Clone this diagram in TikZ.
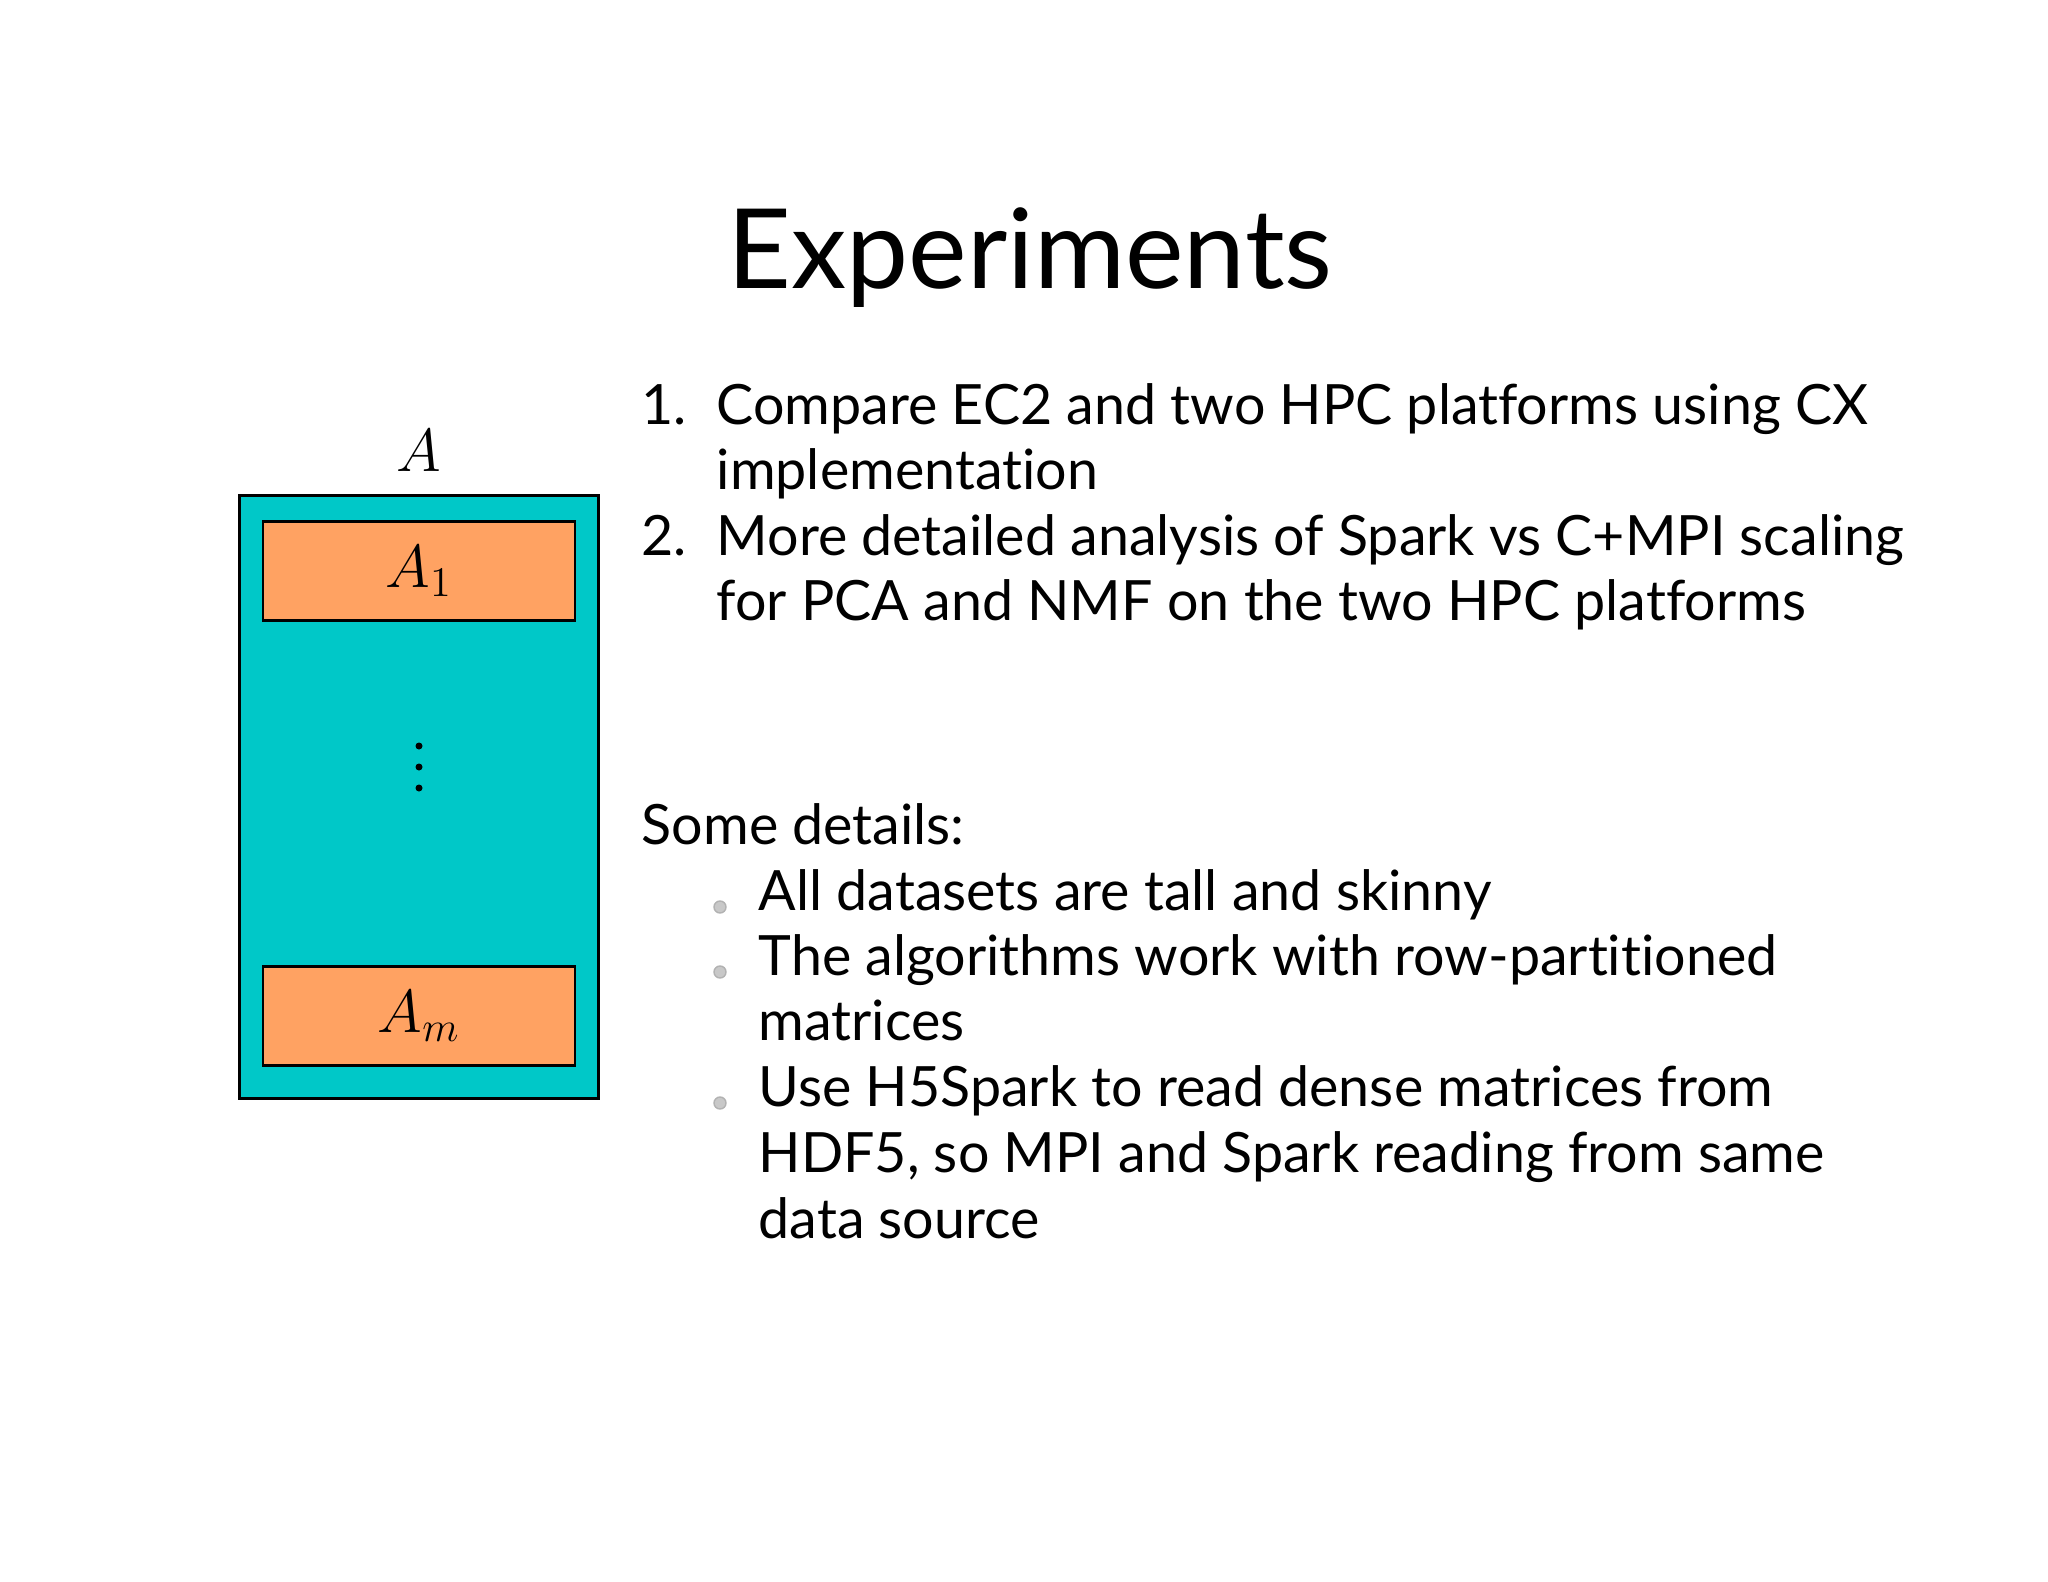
\documentclass[tikz,border=0pt]{standalone}
\usepackage{fontspec}
\setmainfont[Ligatures=NoCommon]{Lato}
\definecolor{cyanbox}{RGB}{0,200,200}
\definecolor{orangebox}{RGB}{255,162,98}
\definecolor{bulletgray}{RGB}{200,200,200}
\begin{document}
\begin{tikzpicture}[x=0.01cm,y=-0.01cm,
  body/.style={anchor=base west,inner sep=0pt,font=\fontsize{15.8}{19}\selectfont},
  blk/.style={draw=black,fill=orangebox,line width=0.6pt,minimum width=312*0.01cm,minimum height=99*0.01cm,inner sep=0pt},
  bul/.style={circle,fill=bulletgray,draw=gray!60,inner sep=0pt,minimum size=0.12cm},
  dot/.style={circle,fill=black,inner sep=0pt,minimum size=0.07cm}]
\useasboundingbox (0,0) rectangle (2048,1582);
% title
\node[font=\fontsize{31.5}{36}\selectfont] (title) at (1030,258) {Experiments};
% matrix picture
\node[draw=black,fill=cyanbox,line width=0.6pt,minimum width=359*0.01cm,minimum height=603*0.01cm,inner sep=0pt] (mat) at (419,797) {};
\node[blk] (a1) at (419,571) {\fontsize{17}{20}\selectfont$A_1$};
\node[blk] (am) at (419,1016) {\fontsize{17}{20}\selectfont$A_m$};
\node[font=\fontsize{17}{20}\selectfont] (alab) at (419,451) {$A$};
\node[dot] (d1dot) at (419,746) {};
\node[dot] (d2dot) at (419,767) {};
\node[dot] (d3dot) at (419,788) {};
% numbered list
\node[body] (n1) at (641,424) {1.};
\node[body] (t1) at (716,424) {Compare EC2 and two HPC platforms using CX};
\node[body] (t1b) at (716,489) {implementation};
\node[body] (n2) at (641,555) {2.};
\node[body] (t2) at (716,555) {More detailed analysis of Spark vs C+MPI scaling};
\node[body] (t2b) at (716,620) {for PCA and NMF on the two HPC platforms};
% details
\node[body] (sd) at (641,844) {Some details:};
\node[bul] (b1) at (720,907) {};
\node[body] (d1) at (758,910) {All datasets are tall and skinny};
\node[bul] (b2) at (720,972) {};
\node[body] (d2) at (758,975) {The algorithms work with row-partitioned};
\node[body] (d2b) at (758,1040) {matrices};
\node[bul] (b3) at (720,1103) {};
\node[body] (d3) at (758,1106) {Use H5Spark to read dense matrices from};
\node[body] (d3b) at (758,1172) {HDF5, so MPI and Spark reading from same};
\node[body] (d3c) at (758,1238) {data source};
\end{tikzpicture}
\end{document}
